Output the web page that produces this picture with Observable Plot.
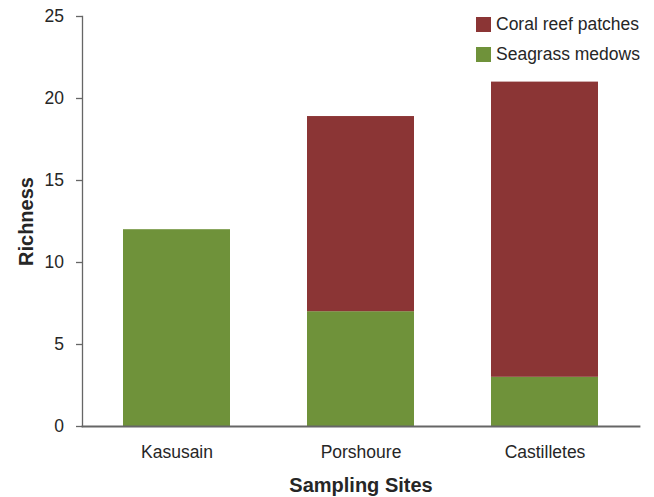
<!DOCTYPE html>
<html>
<head>
<meta charset="utf-8">
<script src="https://cdn.jsdelivr.net/npm/d3@7"></script>
<script src="https://cdn.jsdelivr.net/npm/@observablehq/plot@0.6"></script>
<style>
  html, body { margin: 0; padding: 0; background: #fff; }
  #wrap { position: relative; width: 654px; height: 497px; font-family: "Liberation Sans", Arial, sans-serif; }
  #legend { position: absolute; left: 476px; top: 17px; }
  .item { display: flex; align-items: center; height: 15px; margin-bottom: 15px; font-size: 17.5px; color: #262626; }
  .sw { width: 15px; height: 15px; margin-right: 5px; flex: none; }
</style>
</head>
<body>
<div id="wrap"></div>
<script>
const sites = ["Kasusain", "Porshoure", "Castilletes"];
const seriesNames = ["Seagrass medows", "Coral reef patches"];
const seagrass = [12, 7, 3];
const coral = [0, 11.9, 18];
const colors = ["#6F923A", "#8B3535"];
const yTicks = [0, 5, 10, 15, 20, 25];
const legendOrder = ["Coral reef patches", "Seagrass medows"];

const data = [];
sites.forEach((s, i) => {
  data.push({site: s, series: seriesNames[0], value: seagrass[i]});
  data.push({site: s, series: seriesNames[1], value: coral[i]});
});

const axisColor = "#666";
const chart = Plot.plot({
  width: 654,
  height: 497,
  marginLeft: 82,
  marginRight: 15,
  marginTop: 16,
  marginBottom: 71,
  style: {fontFamily: "'Liberation Sans', Arial, sans-serif", fontSize: "17.5px", color: "#262626", background: "#fff"},
  x: {domain: sites, paddingInner: 0.42, paddingOuter: 0.22, label: null},
  y: {domain: [0, 25], label: null},
  color: {domain: seriesNames, range: colors},
  marks: [
    Plot.barY(data, {x: "site", y: "value", fill: "series"}),
    Plot.frame({anchor: "left", stroke: axisColor, strokeWidth: 1.3}),
    Plot.frame({anchor: "bottom", stroke: axisColor, strokeWidth: 1.8}),
    Plot.axisY({ticks: yTicks, tickSize: 6, tickPadding: 12.5, label: null, stroke: axisColor, strokeWidth: 1.3, fill: "#262626", fontSize: 17.5}),
    Plot.axisX({tickSize: 0, tickPadding: 19.5, label: null, fill: "#262626", fontSize: 17.5}),
    Plot.text(["Richness"], {frameAnchor: "left", textAnchor: "middle", lineAnchor: "middle", rotate: -90, dx: -56, fontWeight: "bold", fontSize: 20, fill: "#262626"}),
    Plot.text(["Sampling Sites"], {frameAnchor: "bottom", textAnchor: "middle", lineAnchor: "middle", dy: 58.6, fontWeight: "bold", fontSize: 20, fill: "#262626"})
  ]
});

const wrap = document.getElementById("wrap");
wrap.appendChild(chart);

const legend = document.createElement("div");
legend.id = "legend";
legendOrder.forEach(name => {
  const it = document.createElement("div");
  it.className = "item";
  const sw = document.createElement("div");
  sw.className = "sw";
  sw.style.background = colors[seriesNames.indexOf(name)];
  const t = document.createElement("span");
  t.textContent = name;
  it.appendChild(sw);
  it.appendChild(t);
  legend.appendChild(it);
});
wrap.appendChild(legend);
</script>
</body>
</html>
